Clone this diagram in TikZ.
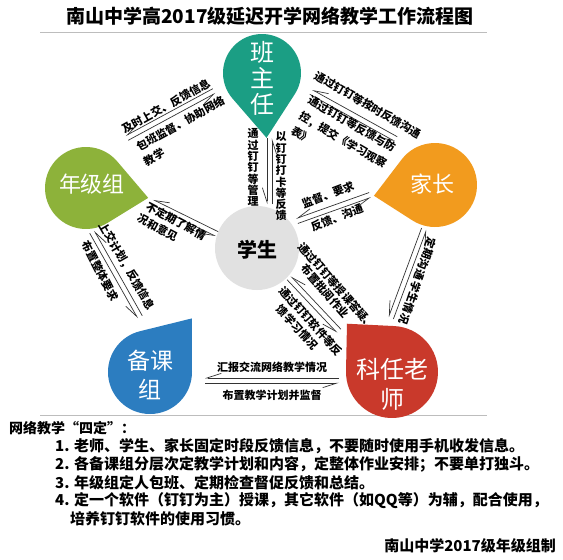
\documentclass[tikz,border=0pt]{standalone}
\usepackage{fontspec}
\setmainfont{Noto Sans CJK SC}
\usetikzlibrary{arrows.meta,calc}
\definecolor{cteal}{HTML}{1B9E84}
\definecolor{cgreen}{HTML}{8DB23A}
\definecolor{corange}{HTML}{F29B1E}
\definecolor{cblue}{HTML}{2C7DC0}
\definecolor{cred}{HTML}{C9392B}
\definecolor{cgray}{HTML}{E1E1E1}
\definecolor{cline}{HTML}{BDBDBD}
\tikzset{
  harp/.style={draw=black!80, line width=0.7pt, -{Straight Barb[right,length=14pt,width=9pt]}},
  lbl/.style={font=\bfseries\fontsize{11}{11}\selectfont, inner sep=0pt, text=black},
  vlbl/.style={font=\bfseries\fontsize{11}{11.3}\selectfont, inner sep=0pt, align=center},
  big/.style={text=white, inner sep=0pt, align=center},
  para/.style={font=\bfseries\fontsize{15}{15}\selectfont, inner sep=0pt, anchor=west},
}
\newcommand\duo[2]{%
  \draw[harp] ($(#2)!2.6pt!-90:(#1)$) -- ($(#1)!2.6pt!90:(#2)$);
  \draw[harp] ($(#1)!2.6pt!-90:(#2)$) -- ($(#2)!2.6pt!90:(#1)$);
}
\newcommand\drop[6]{%
  \pgfmathsetmacro\dA{acos(#4/#6)}%
  \fill[#1] ($(#2,#3)+(#5+\dA:#4)$) arc[start angle=#5+\dA, end angle=#5-\dA+360, radius=#4]
     -- ($(#2,#3)+(#5:#6)$) -- cycle;
}
\begin{document}
\begin{tikzpicture}[x=1pt,y=-1pt]
\useasboundingbox (0,0) rectangle (563,560);
\fill[white] (0,0) rectangle (563,560);

% title and rules
\node[font=\bfseries\fontsize{19}{19}\selectfont, inner sep=0pt] (title) at (270,16) {南山中学高2017级延迟开学网络教学工作流程图};
\draw[cline, line width=0.8pt] (40,32) -- (487,32);
\draw[cline, line width=0.8pt] (40,415) -- (487,415);

% shapes
\drop{cteal}{262}{73}{39}{86}{65}
\drop{cgreen}{86}{188}{41}{9}{63}
\drop{corange}{435}{185}{42}{170}{62}
\drop{cblue}{150}{372}{42}{-52}{68}
\drop{cred}{392}{372}{46}{227}{66}
\fill[cgray] (257,248) circle[radius=42];

\node[big, font=\fontsize{24}{26}\selectfont] (bzr) at (262,78) {班\\主\\任};
\node[big, font=\fontsize{22}{22}\selectfont] (njz) at (92,184) {年级组};
\node[big, font=\fontsize{22}{22}\selectfont] (jz) at (432,184) {家长};
\node[big, font=\fontsize{23}{29}\selectfont] (bkz) at (150,375) {备课\\组};
\node[big, font=\fontsize{24}{30}\selectfont] (krls) at (392,384) {科任老\\师};
\node[font=\bfseries\fontsize{20}{20}\selectfont, inner sep=0pt] (xs) at (257,250) {学生};

% connector end points
\coordinate (p1a) at (127,138); \coordinate (p1b) at (214,91);
\coordinate (p2a) at (269.5,138); \coordinate (p2b) at (269.5,204);
\coordinate (p3a) at (311,92); \coordinate (p3b) at (396,139);
\coordinate (p4a) at (152,202); \coordinate (p4b) at (217,234);
\coordinate (p5a) at (297,221); \coordinate (p5b) at (370,195);
\coordinate (p6a) at (92,232); \coordinate (p6b) at (140,317);
\coordinate (p7a) at (424,229); \coordinate (p7b) at (391,318);
\coordinate (p8a) at (289,278); \coordinate (p8b) at (339,331);
\coordinate (p9a) at (205,380.5); \coordinate (p9b) at (339,380.5);
\duo{p1a}{p1b}
\duo{p2a}{p2b}
\duo{p3a}{p3b}
\duo{p4a}{p4b}
\duo{p5a}{p5b}
\duo{p6a}{p6b}
\duo{p7a}{p7b}
\duo{p8a}{p8b}
\duo{p9a}{p9b}

% labels
\node[lbl, rotate=29] (l1a) at (166,106) {及时上交、反馈信息};
\node[lbl, rotate=29] (l1b) at (180.5,123.5) {包班监督、协助网络};
\node[lbl, rotate=29] (l1c) at (154,157) {教学};
\node[vlbl] (l2a) at (253,167.5) {通\\过\\钉\\钉\\等\\管\\理};
\node[vlbl] (l2b) at (281,176.5) {以\\钉\\钉\\打\\卡\\等\\反\\馈};
\node[lbl, rotate=-30] (l3a) at (368,105) {通过钉钉等按时反馈沟通};
\node[lbl, rotate=-30] (l3b) at (352,124) {通过钉钉等反馈与防};
\node[lbl, rotate=-30] (l3c) at (343,140) {控，提交《学习观察};
\node[lbl, rotate=-30] (l3d) at (302,135) {表》};
\node[lbl, rotate=-28] (l4a) at (176,221) {不定期了解情};
\node[lbl, rotate=-28] (l4b) at (157.5,227.5) {况和意见};
\node[lbl, rotate=21] (l5a) at (328,195) {监督、要求};
\node[lbl, rotate=21] (l5b) at (337,218) {反馈、沟通};
\node[lbl, rotate=-60] (l6a) at (127,266) {上交计划，反馈信息};
\node[lbl, rotate=-63] (l6b) at (100,271) {布置整体要求};
\node[lbl, rotate=-109] (l7) at (418,281) {定期沟通\ 学生情况};
\node[lbl, rotate=-49] (l8a) at (337,286) {通过钉钉等授课答疑、};
\node[lbl, rotate=-49] (l8b) at (325,291) {布置批阅作业};
\node[lbl, rotate=-48] (l8c) at (311,321) {通过钉钉软件等反};
\node[lbl, rotate=-48] (l8d) at (297.5,327.5) {馈学习情况};
\node[lbl] (l9a) at (272,367) {汇报交流网络教学情况};
\node[lbl] (l9b) at (272,395) {布置教学计划并监督};

% bottom text
\node[para, font=\bfseries\fontsize{14}{14}\selectfont] (head) at (9,428) {网络教学“四定”：};
\node[para] (r1) at (55,446) {1. 老师、学生、家长固定时段反馈信息，不要随时使用手机收发信息。};
\node[para] (r2) at (55,464) {2. 各备课组分层次定教学计划和内容，定整体作业安排；不要单打独斗。};
\node[para] (r3) at (55,483) {3. 年级组定人包班、定期检查督促反馈和总结。};
\node[para] (r4) at (55,501) {4. 定一个软件（钉钉为主）授课，其它软件（如QQ等）为辅，配合使用，};
\node[para] (r5) at (70,519) {培养钉钉软件的使用习惯。};
\node[para, anchor=east] (sig) at (556,546) {南山中学2017级年级组制};
\end{tikzpicture}
\end{document}
